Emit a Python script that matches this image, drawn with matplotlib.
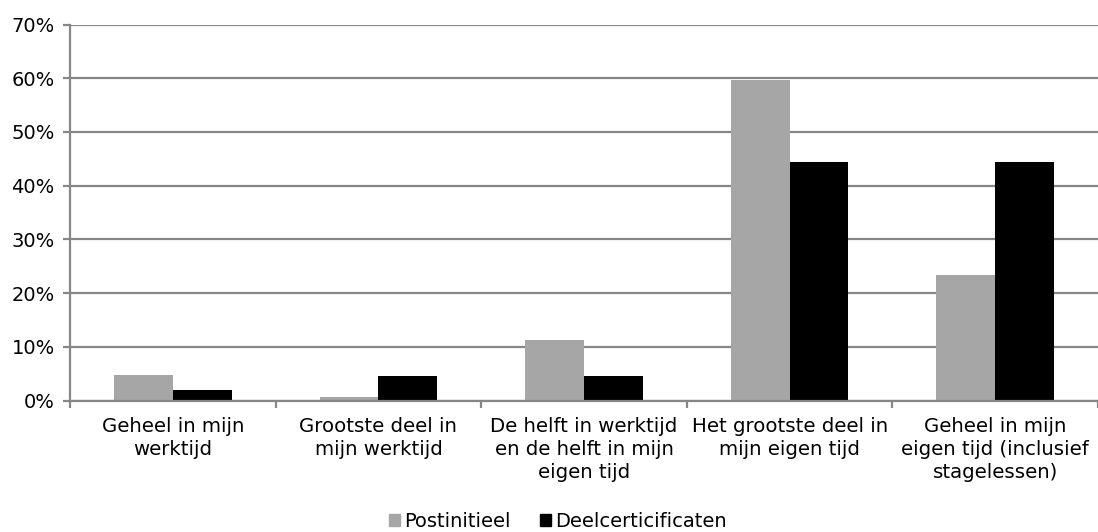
import numpy as np
import matplotlib.pyplot as plt
import matplotlib.ticker as mticker
from matplotlib.patches import Patch

# Data
categories = ['Geheel in mijn\nwerktijd',
              'Grootste deel in\nmijn werktijd',
              'De helft in werktijd\nen de helft in mijn\neigen tijd',
              'Het grootste deel in\nmijn eigen tijd',
              'Geheel in mijn\neigen tijd (inclusief\nstagelessen)']
postinitieel = [4.8, 0.7, 11.2, 59.7, 23.4]
deelcertificaten = [1.9, 4.6, 4.6, 44.4, 44.4]
series_names = ['Postinitieel', 'Deelcerticificaten']
series_colors = ['#a6a6a6', '#000000']

plt.rcParams['font.family'] = 'DejaVu Sans'
grid_col = '#878787'

fig = plt.figure(figsize=(10.98, 5.32), dpi=100)
ax = fig.add_axes([70 / 1098, 1 - 400.5 / 532, 1 - 70 / 1098, (400.5 - 24.5) / 532])

x = np.arange(len(categories))
w = 1 / 3.5
ax.bar(x - w / 2, postinitieel, w, color=series_colors[0], zorder=3)
ax.bar(x + w / 2, deelcertificaten, w, color=series_colors[1], zorder=3)

# Axes
ax.set_xlim(-0.5, len(categories) - 0.5)
ax.set_ylim(0, 70)
ax.yaxis.set_major_locator(mticker.MultipleLocator(10))
ax.yaxis.set_major_formatter(mticker.FuncFormatter(lambda v, p: f'{v:.0f}%'))
ax.grid(axis='y', color=grid_col, lw=1.6, zorder=0)

ax.set_xticks(np.arange(len(categories) + 1) - 0.5)
ax.set_xticklabels([])
ax.set_xticks(x, minor=True)
ax.set_xticklabels(categories, minor=True, fontsize=14.2, linespacing=1.25)
ax.tick_params(axis='x', which='major', length=5, width=1.6, color=grid_col)
ax.tick_params(axis='x', which='minor', length=0, pad=12)
ax.tick_params(axis='y', length=5, width=1.6, color=grid_col, labelsize=14, pad=6)

for s in ['top', 'right']:
    ax.spines[s].set_visible(False)
for s in ['left', 'bottom']:
    ax.spines[s].set_color(grid_col)
    ax.spines[s].set_linewidth(1.6)
    ax.spines[s].set_zorder(4)

# Legend
handles = [Patch(color=c, label=n) for c, n in zip(series_colors, series_names)]
fig.legend(handles=handles, loc='lower center', bbox_to_anchor=(0.508, -0.031), ncol=2,
           frameon=False, fontsize=14, handlelength=0.6, handleheight=0.6,
           handletextpad=0.2, columnspacing=1.5)

plt.savefig('out.png', dpi=100)
